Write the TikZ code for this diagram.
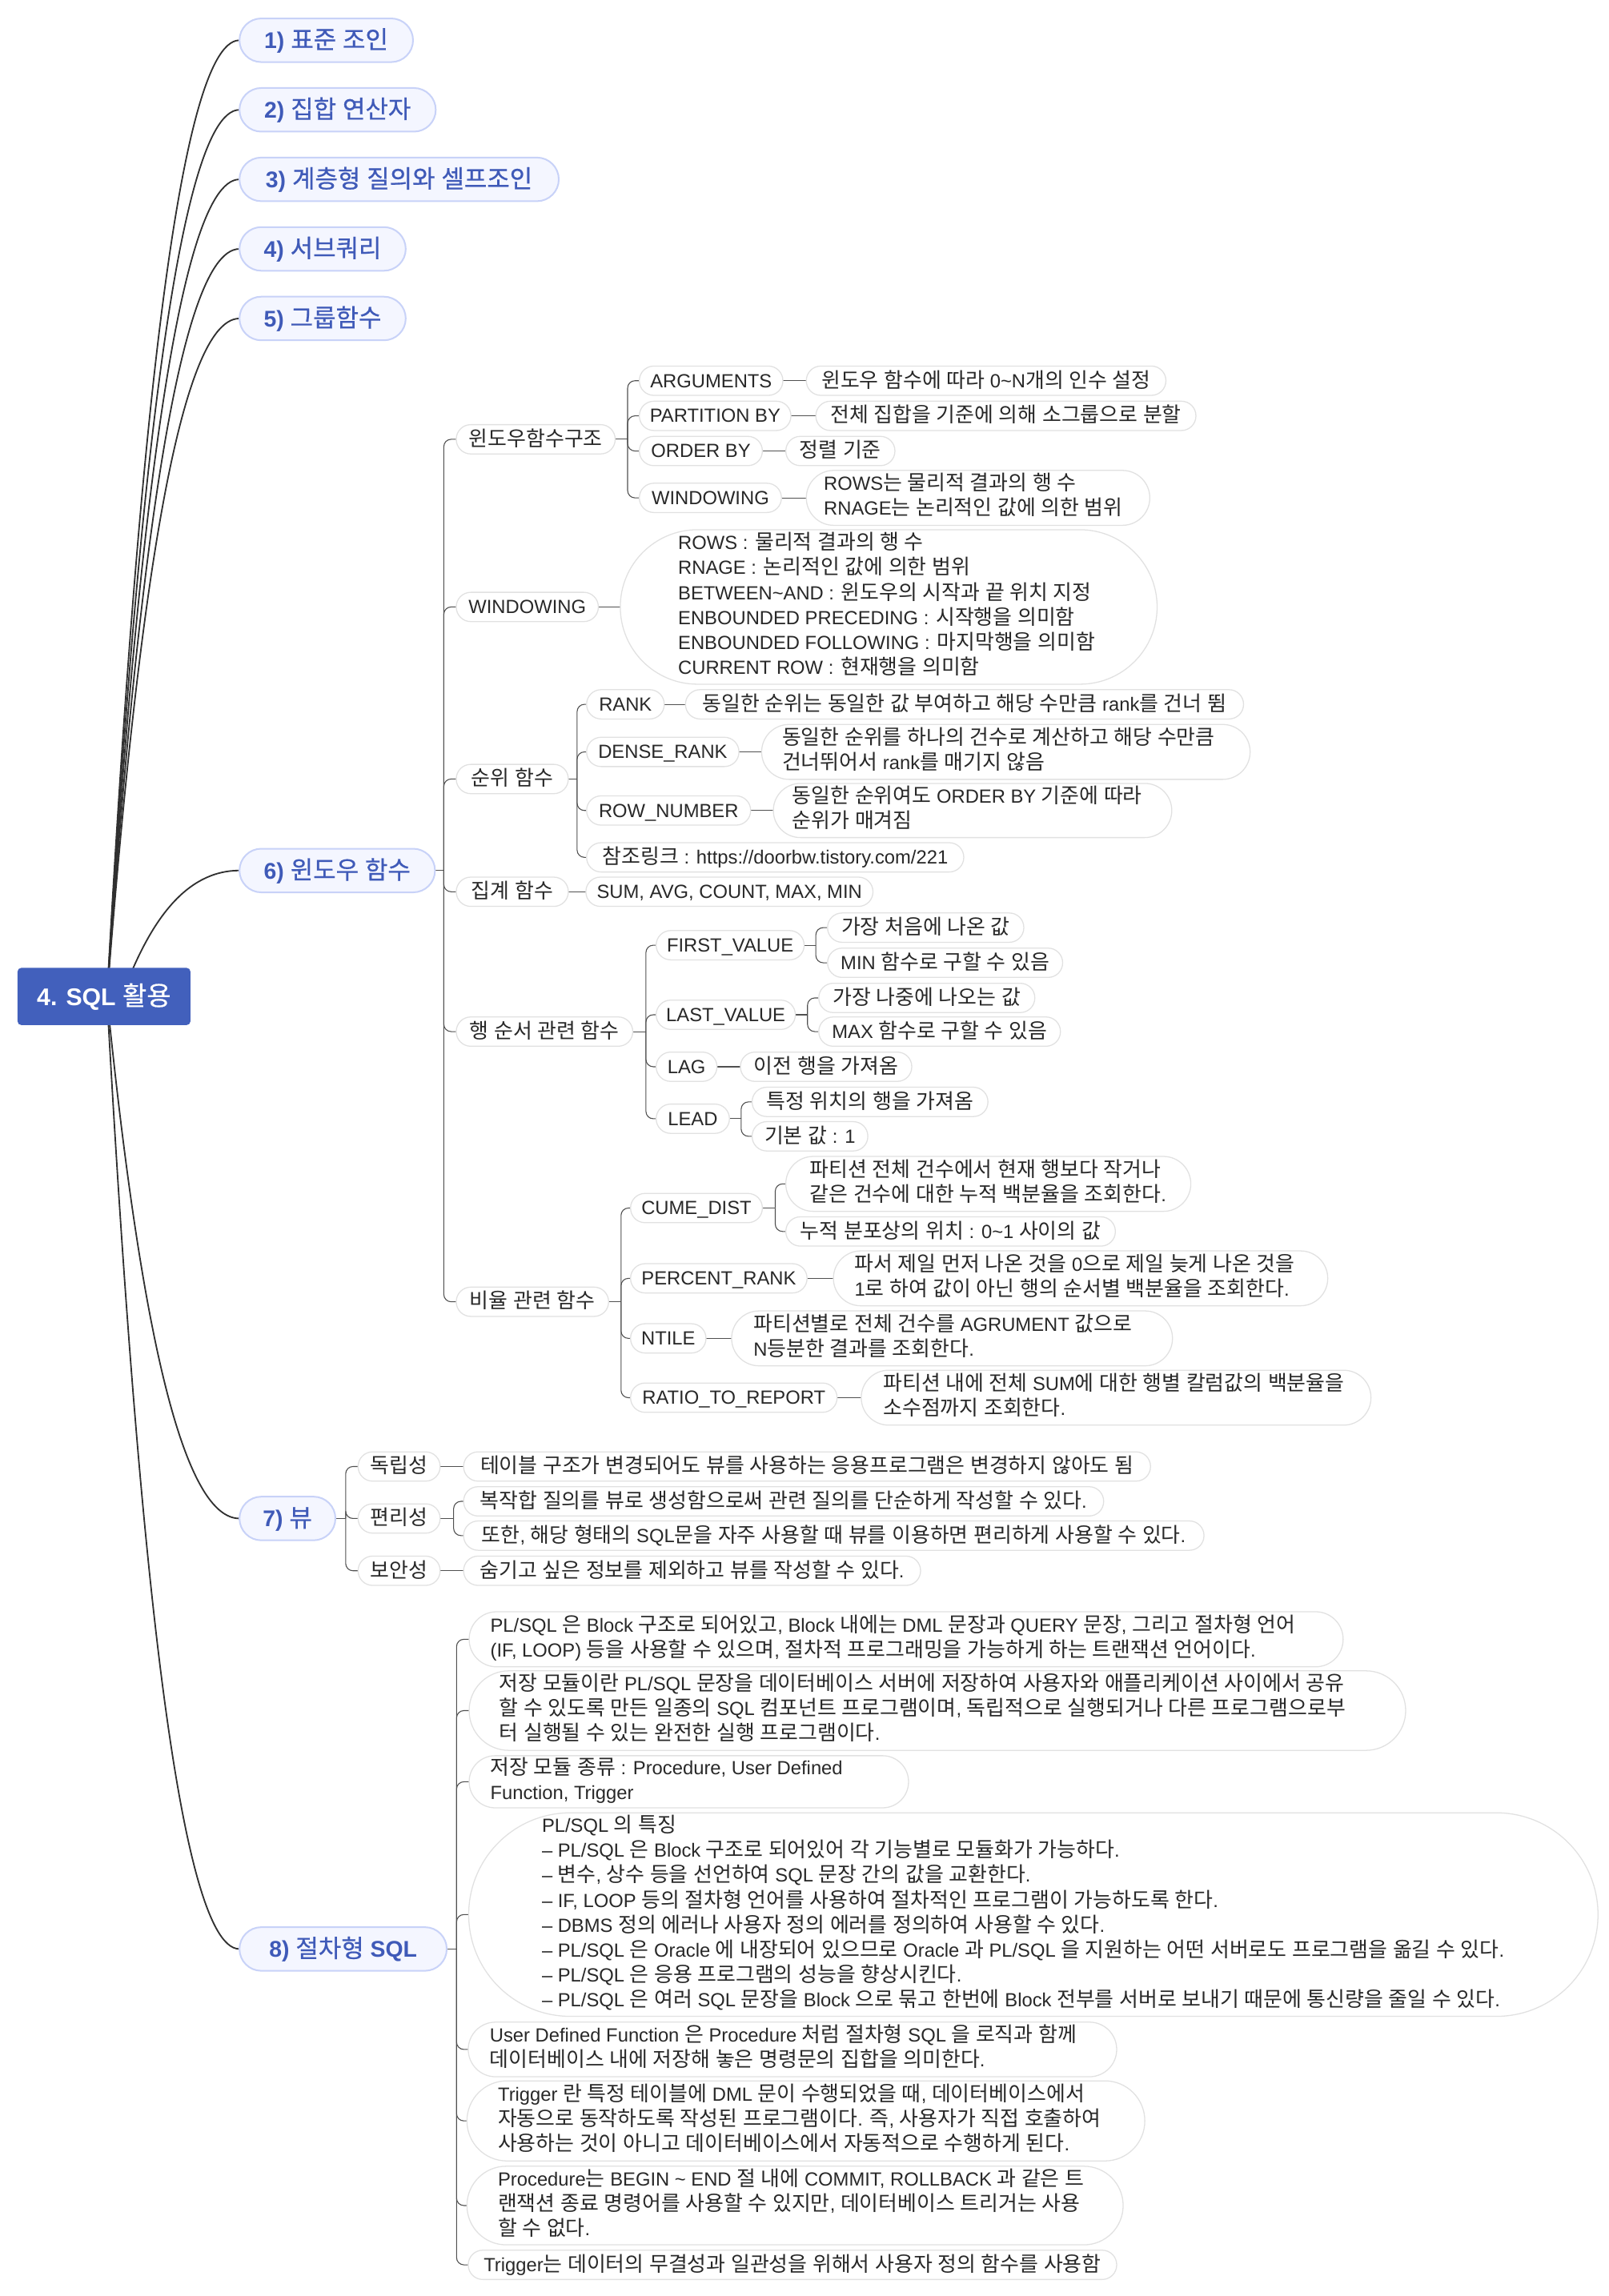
\documentclass[tikz,border=0pt]{standalone}
\usepackage{fontspec}
\setmainfont{Liberation Sans}
\newfontfamily\krfont[Scale=1.09, BoldFont={Noto Sans CJK KR}, BoldFeatures={FakeBold=0.6}]{Noto Sans CJK KR}
\newXeTeXintercharclass\krclass
\newcount\hcnt
\hcnt="AC00
\loop
  \XeTeXcharclass\hcnt=\krclass
  \ifnum\hcnt<"D7A3
  \advance\hcnt by 1
\repeat
\XeTeXinterchartoks 0 \krclass = {\krfont}
\XeTeXinterchartoks 4095 \krclass = {\krfont}
\XeTeXinterchartoks \krclass 0 = {\rmfamily}
\XeTeXinterchartoks 4095 0 = {\rmfamily}
\XeTeXinterchartoks \krclass 4095 = {\rmfamily}
\XeTeXinterchartokenstate=1
\usetikzlibrary{backgrounds,calc}
\definecolor{rootblue}{RGB}{66,96,188}
\definecolor{toplav}{RGB}{244,246,255}
\definecolor{topline}{RGB}{200,210,248}
\definecolor{topblue}{RGB}{63,90,184}
\definecolor{subline}{RGB}{225,225,225}
\definecolor{subtext}{RGB}{40,40,40}
\definecolor{connc}{RGB}{48,48,48}
\definecolor{connc2}{RGB}{80,80,80}
\newcommand\tld{\textasciitilde}
\newcommand\mlbox[2]{\makebox[#1][l]{\begin{tabular}{@{}l@{}}#2\end{tabular}}}
\newcommand\rootlink[2]{\draw[mainconn] let \p1=(#1), \p2=(#2.west) in
  (\p1) .. controls ({\x1+0.2*(\x2-\x1)},{\y1+0.5*(\y2-\y1)}) and ({\x1+0.5*(\x2-\x1)},\y2) .. (\p2);}
\newcommand\stem[2]{\draw[conn] (#1.east) -- (#1.east -| #2);}
\newcommand\twig[3]{\draw[conn, rounded corners=5pt] (#1.east -| #2) |- (#3.west);}
\newcommand\slink[2]{\draw[conn] (#1.east) -- (#2.west);}
\newcommand\branch[3]{\stem{#1}{#2}\foreach \ch in {#3}{\twig{#1}{#2}{\ch}}}
\tikzset{
  mainconn/.style={draw=connc, line width=1.0pt},
  conn/.style={draw=connc2, line width=0.6pt},
  rootbox/.style={fill=rootblue, text=white, rounded corners=2.5pt, minimum width=118pt, minimum height=39pt, inner sep=0pt, outer sep=0pt, font=\fontsize{16.5}{20}\selectfont\bfseries, text height=13pt, text depth=1pt},
  topbox/.style={anchor=west, fill=toplav, draw=topline, line width=1.1pt, text=topblue, rounded corners=14.9pt, minimum height=29.8pt, inner xsep=6pt, inner ysep=0pt, outer sep=0pt, font=\fontsize{15.5}{19}\selectfont\bfseries, text height=12.3pt, text depth=1pt},
  subbox/.style={anchor=west, fill=white, draw=subline, line width=0.7pt, text=subtext, inner ysep=0pt, outer sep=0pt, font=\fontsize{13}{17}\selectfont},
  sone/.style={subbox, minimum height=20pt, rounded corners=9.9pt, inner xsep=4pt, text height=10.3pt, text depth=1.2pt},
  smulti/.style={subbox, minimum height=#1, rounded corners=#1/2-0.05pt},
}
\begin{document}
\begin{tikzpicture}[x=1pt,y=-1pt]
\useasboundingbox (0,0) rectangle (1098,1568);
\node[rootbox] (root) at (71,680.5) {4. SQL 활용};
\coordinate (rc) at (73,681);
\coordinate (rc6) at (88,668);
% top level
\node[topbox, minimum width=118.5pt] (t1) at (163.5,27.5) {1) 표준 조인};
\node[topbox, minimum width=134pt] (t2) at (163.5,75) {2) 집합 연산자};
\node[topbox, minimum width=218pt] (t3) at (163.5,122.5) {3) 계층형 질의와 셀프조인};
\node[topbox, minimum width=113.5pt] (t4) at (163.5,170) {4) 서브쿼리};
\node[topbox, minimum width=113.5pt] (t5) at (163.5,217.5) {5) 그룹함수};
\node[topbox, minimum width=133.5pt] (t6) at (163.5,594.5) {6) 윈도우 함수};
\node[topbox, minimum width=65.5pt] (t7) at (163.5,1037) {7) 뷰};
\node[topbox, minimum width=141.5pt] (t8) at (163.5,1331) {8) 절차형 SQL};
% trunk x positions
\coordinate (T6) at (303,0);
\coordinate (Ta1) at (428.5,0);
\coordinate (Ta3) at (394,0);
\coordinate (Ta5) at (441,0);
\coordinate (Tf1) at (557,0);
\coordinate (Tf2) at (551.3,0);
\coordinate (Tf4) at (506,0);
\coordinate (Ta6) at (424,0);
\coordinate (Tp1) at (529.3,0);
\coordinate (T7) at (236,0);
\coordinate (Tq2) at (309.7,0);
\coordinate (T8) at (311.7,0);
% 6) children
\node[sone, minimum width=108.5pt] (a1) at (311.5,300) {윈도우함수구조};
\node[sone, minimum width=97pt] (a2) at (311.5,414.5) {WINDOWING};
\node[sone, minimum width=76.5pt] (a3) at (311.5,532) {순위 함수};
\node[sone, minimum width=76.5pt] (a4) at (311.5,609) {집계 함수};
\node[sone, minimum width=120.5pt] (a5) at (311.5,704.5) {행 순서 관련 함수};
\node[sone, minimum width=104pt] (a6) at (311.5,889) {비율 관련 함수};
% window structure
\node[sone, minimum width=98pt] (b1) at (436.5,260) {ARGUMENTS};
\node[sone, minimum width=103.5pt] (b2) at (436.5,284) {PARTITION BY};
\node[sone, minimum width=84pt] (b3) at (436.5,308) {ORDER BY};
\node[sone, minimum width=97pt] (b4) at (436.5,340) {WINDOWING};
\node[sone, minimum width=245.5pt] (v1) at (550.5,260) {윈도우 함수에 따라 0\tld N개의 인수 설정};
\node[sone, minimum width=259.5pt] (v2) at (557,284) {전체 집합을 기준에 의해 소그룹으로 분할};
\node[sone, minimum width=74.5pt] (v3) at (536.5,308) {정렬 기준};
\node[smulti=37.5pt, minimum width=234.5pt, inner xsep=12pt] (v4) at (550.5,340) {\mlbox{210.5pt}{ROWS는 물리적 결과의 행 수\\RNAGE는 논리적인 값에 의한 범위}};
\node[smulti=105.5pt, minimum width=366.5pt, inner xsep=39.5pt] (w1) at (423.5,414.5) {\mlbox{287.5pt}{ROWS : 물리적 결과의 행 수\\RNAGE : 논리적인 값에 의한 범위\\BETWEEN\tld AND : 윈도우의 시작과 끝 위치 지정\\ENBOUNDED PRECEDING : 시작행을 의미함\\ENBOUNDED FOLLOWING : 마지막행을 의미함\\CURRENT ROW : 현재행을 의미함}};
% rank
\node[sone, minimum width=53pt] (r1) at (400.5,481) {RANK};
\node[sone, minimum width=381pt] (rv1) at (468,481) {동일한 순위는 동일한 값 부여하고 해당 수만큼 rank를 건너 뜀};
\node[sone, minimum width=104pt] (r2) at (400.5,513.5) {DENSE\_RANK};
\node[smulti=37.5pt, minimum width=333.5pt, inner xsep=14pt] (rv2) at (520,513.5) {\mlbox{305.5pt}{동일한 순위를 하나의 건수로 계산하고 해당 수만큼\\건너뛰어서 rank를 매기지 않음}};
\node[sone, minimum width=112pt] (r3) at (400.5,553.5) {ROW\_NUMBER};
\node[smulti=37pt, minimum width=272pt, inner xsep=13pt] (rv3) at (528,553.5) {\mlbox{246pt}{동일한 순위여도 ORDER BY 기준에 따라\\순위가 매겨짐}};
\node[sone, minimum width=257.5pt] (r4) at (400.5,585.5) {참조링크 : https://doorbw.tistory.com/221};
\node[sone, minimum width=196pt] (s1) at (400,609) {SUM, AVG, COUNT, MAX, MIN};
% row order
\node[sone, minimum width=101pt] (f1) at (448,645.5) {FIRST\_VALUE};
\node[sone, minimum width=134pt] (f1a) at (565,633.5) {가장 처음에 나온 값};
\node[sone, minimum width=160.5pt] (f1b) at (565,657.5) {MIN 함수로 구할 수 있음};
\node[sone, minimum width=95pt] (f2) at (448,693) {LAST\_VALUE};
\node[sone, minimum width=147.5pt] (f2a) at (559,681.5) {가장 나중에 나오는 값};
\node[sone, minimum width=165pt] (f2b) at (559,704.5) {MAX 함수로 구할 수 있음};
\node[sone, minimum width=41.5pt] (f3) at (448,728.5) {LAG};
\node[sone, minimum width=117pt] (f3v) at (505.5,728.5) {이전 행을 가져옴};
\node[sone, minimum width=50pt] (f4) at (448,764) {LEAD};
\node[sone, minimum width=161pt] (f4a) at (513.5,752.5) {특정 위치의 행을 가져옴};
\node[sone, minimum width=79pt] (f4b) at (513.5,776) {기본 값 : 1};
% ratio
\node[sone, minimum width=90pt] (p1) at (430.5,825) {CUME\_DIST};
\node[smulti=37.5pt, minimum width=276.5pt, inner xsep=16.5pt] (p1a) at (536.5,808.5) {\mlbox{243.5pt}{파티션 전체 건수에서 현재 행보다 작거나\\같은 건수에 대한 누적 백분율을 조회한다.}};
\node[sone, minimum width=225pt] (p1b) at (536.5,841) {누적 분포상의 위치 : 0\tld 1 사이의 값};
\node[sone, minimum width=120.5pt] (p2) at (430.5,873) {PERCENT\_RANK};
\node[smulti=37.5pt, minimum width=337.5pt, inner xsep=14.5pt] (p2v) at (569,873) {\mlbox{308.5pt}{파서 제일 먼저 나온 것을 0으로 제일 늦게 나온 것을\\1로 하여 값이 아닌 행의 순서별 백분율을 조회한다.}};
\node[sone, minimum width=51.5pt] (p3) at (430.5,914) {NTILE};
\node[smulti=37.5pt, minimum width=301pt, inner xsep=15pt] (p3v) at (499.5,914) {\mlbox{271pt}{파티션별로 전체 건수를 AGRUMENT 값으로\\N등분한 결과를 조회한다.}};
\node[sone, minimum width=141pt] (p4) at (430.5,954.5) {RATIO\_TO\_REPORT};
\node[smulti=37.5pt, minimum width=348pt, inner xsep=15pt] (p4v) at (588,954.5) {\mlbox{318pt}{파티션 내에 전체 SUM에 대한 행별 칼럼값의 백분율을\\소수점까지 조회한다.}};
% 7) view
\node[sone, minimum width=56pt] (q1) at (244.5,1001.5) {독립성};
\node[sone, minimum width=469pt] (q1v) at (316.5,1001.5) {테이블 구조가 변경되어도 뷰를 사용하는 응용프로그램은 변경하지 않아도 됨};
\node[sone, minimum width=56pt] (q2) at (244.5,1037) {편리성};
\node[sone, minimum width=437pt] (q2a) at (316.5,1025.3) {복작합 질의를 뷰로 생성함으로써 관련 질의를 단순하게 작성할 수 있다.};
\node[sone, minimum width=505.5pt] (q2b) at (316.5,1048.7) {또한, 해당 형태의 SQL문을 자주 사용할 때 뷰를 이용하면 편리하게 사용할 수 있다.};
\node[sone, minimum width=56pt] (q3) at (244.5,1072.7) {보안성};
\node[sone, minimum width=312pt] (q3v) at (316.5,1072.7) {숨기고 싶은 정보를 제외하고 뷰를 작성할 수 있다.};
% 8) procedural SQL
\node[smulti=37.6pt, minimum width=596.7pt, inner xsep=14.5pt] (c1) at (320.3,1119.5) {\mlbox{567.7pt}{PL/SQL 은 Block 구조로 되어있고, Block 내에는 DML 문장과 QUERY 문장, 그리고 절차형 언어\\(IF, LOOP) 등을 사용할 수 있으며, 절차적 프로그래밍을 가능하게 하는 트랜잭션 언어이다.}};
\node[smulti=54.3pt, minimum width=639.4pt, inner xsep=20.6pt] (c2) at (320.3,1168.2) {\mlbox{598.2pt}{저장 모듈이란 PL/SQL 문장을 데이터베이스 서버에 저장하여 사용자와 애플리케이션 사이에서 공유\\할 수 있도록 만든 일종의 SQL 컴포넌트 프로그램이며, 독립적으로 실행되거나 다른 프로그램으로부\\터 실행될 수 있는 완전한 실행 프로그램이다.}};
\node[smulti=35.6pt, minimum width=300pt, inner xsep=14.5pt] (c3) at (320.3,1216.8) {\mlbox{271pt}{저장 모듈 종류 : Procedure, User Defined\\Function, Trigger}};
\node[smulti=139pt, minimum width=771pt, inner xsep=50pt] (c4) at (320,1307.5) {\mlbox{671pt}{PL/SQL 의 특징\\– PL/SQL 은 Block 구조로 되어있어 각 기능별로 모듈화가 가능하다.\\– 변수, 상수 등을 선언하여 SQL 문장 간의 값을 교환한다.\\– IF, LOOP 등의 절차형 언어를 사용하여 절차적인 프로그램이 가능하도록 한다.\\– DBMS 정의 에러나 사용자 정의 에러를 정의하여 사용할 수 있다.\\– PL/SQL 은 Oracle 에 내장되어 있으므로 Oracle 과 PL/SQL 을 지원하는 어떤 서버로도 프로그램을 옮길 수 있다.\\– PL/SQL 은 응용 프로그램의 성능을 향상시킨다.\\– PL/SQL 은 여러 SQL 문장을 Block 으로 묶고 한번에 Block 전부를 서버로 보내기 때문에 통신량을 줄일 수 있다.}};
\node[smulti=37.3pt, minimum width=442.7pt, inner xsep=14.7pt] (c5) at (319.7,1399.6) {\mlbox{413.3pt}{User Defined Function 은 Procedure 처럼 절차형 SQL 을 로직과 함께\\데이터베이스 내에 저장해 놓은 명령문의 집합을 의미한다.}};
\node[smulti=54.7pt, minimum width=462.8pt, inner xsep=21.2pt] (c6) at (318.8,1448.4) {\mlbox{420.4pt}{Trigger 란 특정 테이블에 DML 문이 수행되었을 때, 데이터베이스에서\\자동으로 동작하도록 작성된 프로그램이다. 즉, 사용자가 직접 호출하여\\사용하는 것이 아니고 데이터베이스에서 자동적으로 수행하게 된다.}};
\node[smulti=53.7pt, minimum width=448pt, inner xsep=21.2pt] (c7) at (318.8,1506.2) {\mlbox{405.6pt}{Procedure는 BEGIN \tld\ END 절 내에 COMMIT, ROLLBACK 과 같은 트\\랜잭션 종료 명령어를 사용할 수 있지만, 데이터베이스 트리거는 사용\\할 수 없다.}};
\node[sone, minimum width=442.7pt] (c8) at (319.7,1546.7) {Trigger는 데이터의 무결성과 일관성을 위해서 사용자 정의 함수를 사용함};
% connectors
\begin{scope}[on background layer]
\fill[white] (0,0) rectangle (1098,1568);
\rootlink{rc}{t1}
\rootlink{rc}{t2}
\rootlink{rc}{t3}
\rootlink{rc}{t4}
\rootlink{rc}{t5}
\rootlink{rc6}{t6}
\rootlink{rc}{t7}
\rootlink{rc}{t8}
\branch{t6}{T6}{a1,a2,a3,a4,a5,a6}
\branch{a1}{Ta1}{b1,b2,b3,b4}
\slink{b1}{v1}
\slink{b2}{v2}
\slink{b3}{v3}
\slink{b4}{v4}
\slink{a2}{w1}
\branch{a3}{Ta3}{r1,r2,r3,r4}
\slink{r1}{rv1}
\slink{r2}{rv2}
\slink{r3}{rv3}
\slink{a4}{s1}
\branch{a5}{Ta5}{f1,f2,f3,f4}
\branch{f1}{Tf1}{f1a,f1b}
\branch{f2}{Tf2}{f2a,f2b}
\slink{f3}{f3v}
\branch{f4}{Tf4}{f4a,f4b}
\branch{a6}{Ta6}{p1,p2,p3,p4}
\branch{p1}{Tp1}{p1a,p1b}
\slink{p2}{p2v}
\slink{p3}{p3v}
\slink{p4}{p4v}
\branch{t7}{T7}{q1,q2,q3}
\slink{q1}{q1v}
\branch{q2}{Tq2}{q2a,q2b}
\slink{q3}{q3v}
\branch{t8}{T8}{c1,c2,c3,c4,c5,c6,c7,c8}
\end{scope}
\end{tikzpicture}
\end{document}
